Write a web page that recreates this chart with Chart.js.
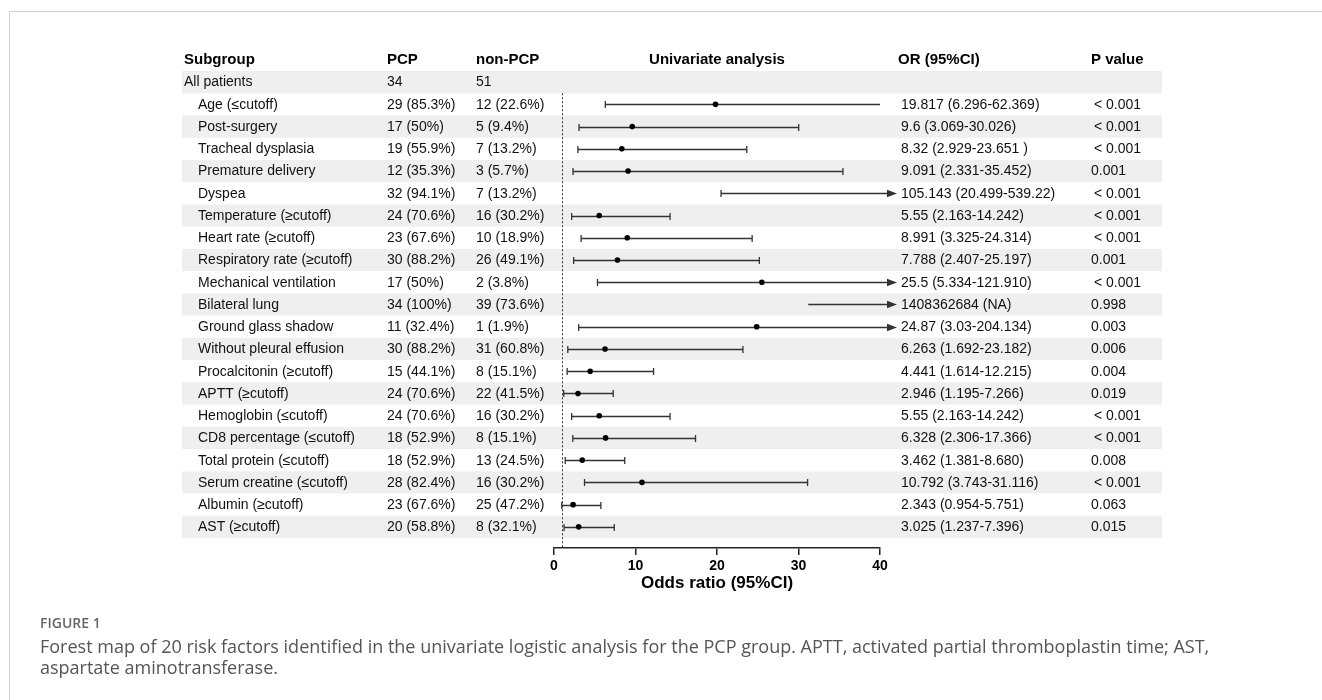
<!DOCTYPE html>
<html><head><meta charset="utf-8">
<script src="https://cdn.jsdelivr.net/npm/chart.js@4.4.1/dist/chart.umd.min.js"></script>
<style>
html,body{margin:0;padding:0;background:#fff;}
#wrap{position:relative;width:1322px;height:700px;overflow:hidden;background:#fff;}
#frame{position:absolute;left:9px;top:11px;right:-2px;bottom:-2px;border-left:1px solid #d2d2d2;border-top:1px solid #d2d2d2;}
canvas{position:absolute;left:0;top:0;}
#cap{position:absolute;left:40px;top:613px;font-family:"Open Sans",sans-serif;color:#555;white-space:nowrap;}
#fig{font-size:14px;font-weight:600;color:#666;line-height:20px;}
#txt{font-size:18px;line-height:21px;margin-top:3px;}
</style></head>
<body><div id="wrap"><div id="frame"></div><canvas id="c" width="1322" height="700"></canvas>
<div id="cap"><div id="fig">FIGURE 1</div><div id="txt">Forest map of 20 risk factors identified in the univariate logistic analysis for the PCP group. APTT, activated partial thromboplastin time; AST,<br>aspartate aminotransferase.</div></div></div>
<script>
const headers = ["Subgroup", "PCP", "non-PCP", "Univariate analysis", "OR (95%CI)", "P value"];
const subgroups = ["All patients","Age (≤cutoff)","Post-surgery","Tracheal dysplasia","Premature delivery","Dyspea","Temperature (≥cutoff)","Heart rate (≥cutoff)","Respiratory rate (≥cutoff)","Mechanical ventilation","Bilateral lung","Ground glass shadow","Without pleural effusion","Procalcitonin (≥cutoff)","APTT (≥cutoff)","Hemoglobin (≤cutoff)","CD8 percentage (≤cutoff)","Total protein (≤cutoff)","Serum creatine (≤cutoff)","Albumin (≥cutoff)","AST (≥cutoff)"];
const pcpCol = ["34","29 (85.3%)","17 (50%)","19 (55.9%)","12 (35.3%)","32 (94.1%)","24 (70.6%)","23 (67.6%)","30 (88.2%)","17 (50%)","34 (100%)","11 (32.4%)","30 (88.2%)","15 (44.1%)","24 (70.6%)","24 (70.6%)","18 (52.9%)","18 (52.9%)","28 (82.4%)","23 (67.6%)","20 (58.8%)"];
const nonPcpCol = ["51","12 (22.6%)","5 (9.4%)","7 (13.2%)","3 (5.7%)","7 (13.2%)","16 (30.2%)","10 (18.9%)","26 (49.1%)","2 (3.8%)","39 (73.6%)","1 (1.9%)","31 (60.8%)","8 (15.1%)","22 (41.5%)","16 (30.2%)","8 (15.1%)","13 (24.5%)","16 (30.2%)","25 (47.2%)","8 (32.1%)"];
const orTextCol = ["","19.817 (6.296-62.369)","9.6 (3.069-30.026)","8.32 (2.929-23.651 )","9.091 (2.331-35.452)","105.143 (20.499-539.22)","5.55 (2.163-14.242)","8.991 (3.325-24.314)","7.788 (2.407-25.197)","25.5 (5.334-121.910)","1408362684 (NA)","24.87 (3.03-204.134)","6.263 (1.692-23.182)","4.441 (1.614-12.215)","2.946 (1.195-7.266)","5.55 (2.163-14.242)","6.328 (2.306-17.366)","3.462 (1.381-8.680)","10.792 (3.743-31.116)","2.343 (0.954-5.751)","3.025 (1.237-7.396)"];
const pValCol = ["","< 0.001","< 0.001","< 0.001","0.001","< 0.001","< 0.001","< 0.001","0.001","< 0.001","0.998","0.003","0.006","0.004","0.019","< 0.001","< 0.001","0.008","< 0.001","0.063","0.015"];
const orEst = [null,19.817,9.6,8.32,9.091,105.143,5.55,8.991,7.788,25.5,1408362684,24.87,6.263,4.441,2.946,5.55,6.328,3.462,10.792,2.343,3.025];
const ciLow = [null,6.296,3.069,2.929,2.331,20.499,2.163,3.325,2.407,5.334,31.2,3.03,1.692,1.614,1.195,2.163,2.306,1.381,3.743,0.954,1.237];
const ciHigh = [null,62.369,30.026,23.651,35.452,539.22,14.242,24.314,25.197,121.910,Infinity,204.134,23.182,12.215,7.266,14.242,17.366,8.680,31.116,5.751,7.396];
const arrowRow = [false,false,false,false,false,true,false,false,false,true,true,true,false,false,false,false,false,false,false,false,false];
const lowCap = [false,true,true,true,true,true,true,true,true,true,false,true,true,true,true,true,true,true,true,true,true];
const xTicks = [0,10,20,30,40];
const refValue = 1;

const FONT = "'Liberation Sans', Arial, sans-serif";
const COL = {sub:184, subIndent:198, pcp:387, non:476, or:901, p:1091, pLt:1094};
const BAND = {left:182, right:1162};

const tablePlugin = {
  id:'forestTable',
  beforeDatasetsDraw(chart){
    const ctx = chart.ctx, y = chart.scales.y, x = chart.scales.x;
    ctx.save();
    ctx.fillStyle = '#efefef';
    for (let i = 0; i < subgroups.length; i += 2){
      const t = y.getPixelForValue(i - 0.5), b = y.getPixelForValue(i + 0.5);
      ctx.fillRect(BAND.left, t, BAND.right - BAND.left, b - t);
    }
    ctx.strokeStyle = '#333'; ctx.lineWidth = 1; ctx.setLineDash([2,2]);
    const rx = Math.round(x.getPixelForValue(refValue)) + 0.5;
    ctx.beginPath(); ctx.moveTo(rx, y.getPixelForValue(0.5)); ctx.lineTo(rx, chart.chartArea.bottom); ctx.stroke();
    ctx.setLineDash([]);
    ctx.strokeStyle = '#333'; ctx.fillStyle = '#333'; ctx.lineWidth = 1.3;
    const xmax = x.max;
    for (let i = 1; i < subgroups.length; i++){
      const yp = Math.round(y.getPixelForValue(i)) + 0.5;
      const x0 = x.getPixelForValue(Math.max(ciLow[i], x.min));
      const hiClip = Math.min(ciHigh[i], xmax);
      const x1 = x.getPixelForValue(hiClip);
      const tip = x1 + 17;
      ctx.beginPath(); ctx.moveTo(x0, yp); ctx.lineTo(arrowRow[i] ? tip - 9 : x1, yp); ctx.stroke();
      if (lowCap[i]) { ctx.beginPath(); ctx.moveTo(x0, yp - 3.5); ctx.lineTo(x0, yp + 3.5); ctx.stroke(); }
      if (ciHigh[i] <= xmax) { ctx.beginPath(); ctx.moveTo(x1, yp - 3.5); ctx.lineTo(x1, yp + 3.5); ctx.stroke(); }
      if (arrowRow[i]) {
        ctx.beginPath(); ctx.moveTo(tip, yp); ctx.lineTo(tip - 10, yp - 3.8); ctx.lineTo(tip - 10, yp + 3.8); ctx.closePath(); ctx.fill();
      }
    }
    ctx.restore();
  },
  afterDraw(chart){
    const ctx = chart.ctx, y = chart.scales.y;
    ctx.save();
    ctx.textBaseline = 'middle';
    ctx.fillStyle = '#000';
    const hy = y.getPixelForValue(-1);
    ctx.font = 'bold 15px ' + FONT;
    ctx.textAlign = 'left';
    ctx.fillText(headers[0], COL.sub, hy);
    ctx.fillText(headers[1], COL.pcp, hy);
    ctx.fillText(headers[2], COL.non, hy);
    ctx.fillText(headers[4], COL.or - 3, hy);
    ctx.fillText(headers[5], COL.p, hy);
    ctx.textAlign = 'center';
    ctx.fillText(headers[3], (chart.chartArea.left + chart.chartArea.right) / 2, hy);
    ctx.textAlign = 'left';
    ctx.font = '14px ' + FONT;
    ctx.fillStyle = '#111';
    for (let i = 0; i < subgroups.length; i++){
      const yp = y.getPixelForValue(i) + 0.5;
      ctx.fillText(subgroups[i], i === 0 ? COL.sub : COL.subIndent, yp);
      ctx.fillText(pcpCol[i], COL.pcp, yp);
      ctx.fillText(nonPcpCol[i], COL.non, yp);
      ctx.fillText(orTextCol[i], COL.or, yp);
      ctx.fillText(pValCol[i], pValCol[i].startsWith('<') ? COL.pLt : COL.p, yp);
    }
    ctx.restore();
  }
};

const points = [];
for (let i = 1; i < subgroups.length; i++) points.push({x: orEst[i], y: i});

new Chart(document.getElementById('c'), {
  type: 'scatter',
  data: { datasets: [{ data: points, backgroundColor: '#000', borderColor: '#000', pointRadius: 2.8, pointBorderWidth: 0, clip: 0 }] },
  options: {
    responsive: false, maintainAspectRatio: false, animation: false, devicePixelRatio: 1,
    layout: { padding: { left: 554, right: 442, top: 71, bottom: 106 } },
    plugins: { legend: { display: false }, tooltip: { enabled: false } },
    scales: {
      y: { type: 'linear', reverse: true, min: -0.5, max: 20.95, display: false },
      x: {
        type: 'linear', min: 0, max: 40,
        afterBuildTicks(s){ s.ticks = xTicks.map(v => ({value: v})); },
        afterFit(s){ s.height = 46; },
        border: { display: true, color: '#222', width: 1.5 },
        grid: { display: true, drawOnChartArea: false, drawTicks: true, tickLength: 7, color: '#222', lineWidth: 1.5 },
        ticks: { color: '#000', padding: 3, font: { family: FONT, size: 14, weight: 'bold' }, maxRotation: 0 },
        title: { display: true, text: 'Odds ratio (95%CI)', color: '#000', padding: { top: 0, bottom: 0 }, font: { family: FONT, size: 17, weight: 'bold' } }
      }
    }
  },
  plugins: [tablePlugin]
});
</script>
</body></html>
